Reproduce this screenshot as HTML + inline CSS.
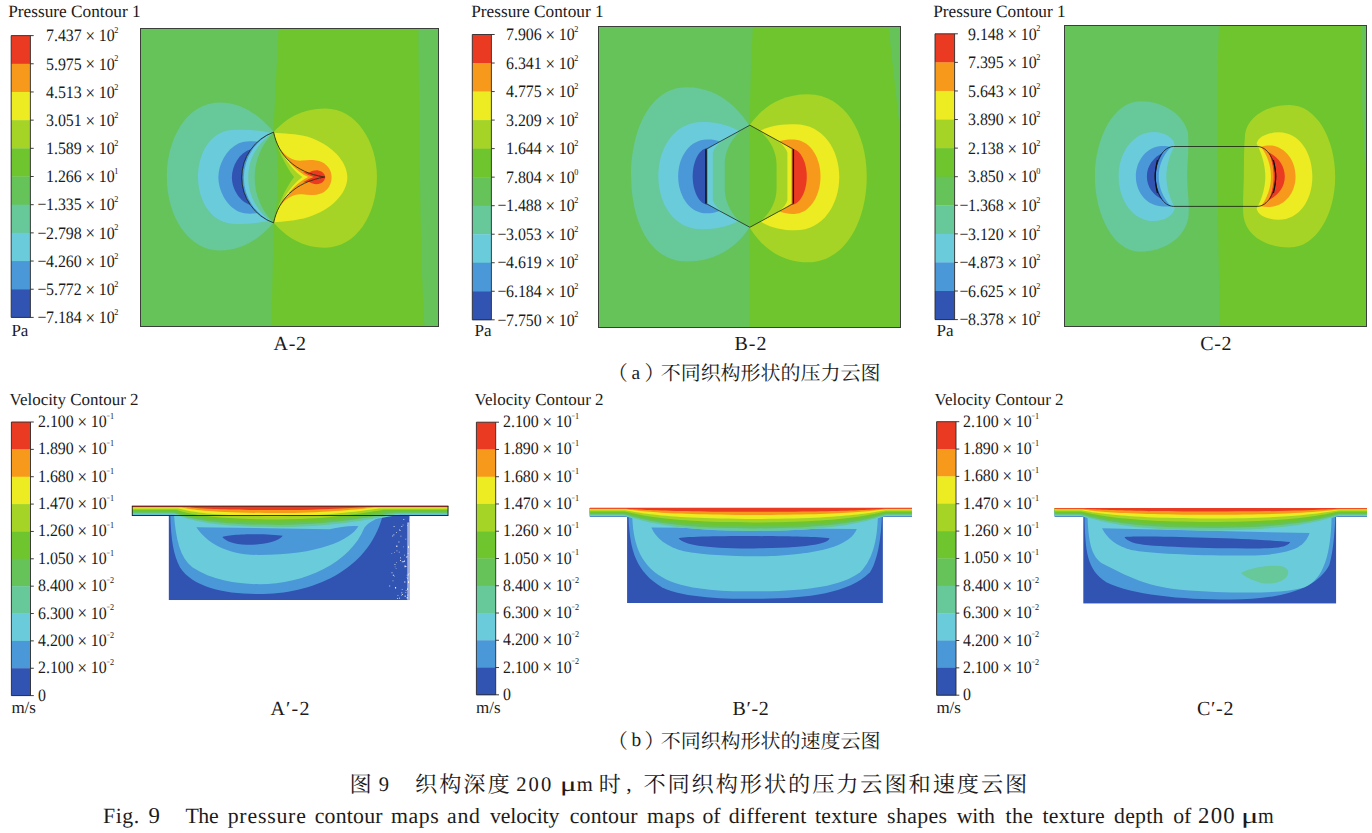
<!DOCTYPE html>
<html lang="zh"><head><meta charset="utf-8"><title>Fig. 9</title><style>
html,body{margin:0;padding:0;background:#fff}
body{width:1372px;height:833px;position:relative;overflow:hidden;font-family:"Liberation Serif",serif;color:#1c1a1b;text-rendering:geometricPrecision;-webkit-font-smoothing:antialiased}
svg{position:absolute;left:0;top:0}
svg text.cj{font-family:"Liberation Serif","Noto Serif CJK SC",serif;fill:#1c1a1b}
.t{position:absolute;white-space:nowrap;line-height:1;margin:0;padding:0}
.t sup{font-size:52%;line-height:0;vertical-align:baseline;position:relative;top:-0.90em;margin-left:-0.04em;letter-spacing:0}
.t .m{font-style:normal;display:inline-block;line-height:1;vertical-align:baseline;transform:scaleX(.75);transform-origin:left center;width:.45em}
.t .neg{font-weight:normal;position:absolute;right:100%;margin-right:-0.03em}
.lab{word-spacing:-0.015em;transform:scaleX(.914);transform-origin:left top}
.t .x{font-style:normal;position:relative;top:.045em;font-size:106%;line-height:0}
.hid{color:transparent}
</style></head><body>
<svg width="1372" height="833" viewBox="0 0 1372 833">
<rect x="11.2" y="35.60" width="19.20" height="28.48" fill="#ea3b22"/>
<rect x="11.2" y="63.78" width="19.20" height="28.48" fill="#f79a1c"/>
<rect x="11.2" y="91.96" width="19.20" height="28.48" fill="#edeb22"/>
<rect x="11.2" y="120.14" width="19.20" height="28.48" fill="#a5d426"/>
<rect x="11.2" y="148.32" width="19.20" height="28.48" fill="#6ec52e"/>
<rect x="11.2" y="176.50" width="19.20" height="28.48" fill="#65c359"/>
<rect x="11.2" y="204.68" width="19.20" height="28.48" fill="#67c89a"/>
<rect x="11.2" y="232.86" width="19.20" height="28.48" fill="#6accda"/>
<rect x="11.2" y="261.04" width="19.20" height="28.48" fill="#4b98d9"/>
<rect x="11.2" y="289.22" width="19.20" height="28.48" fill="#3153b1"/>
<path d="M11.2,35.6 H33.699999999999996 M11.2,317.4 H33.699999999999996 M11.2,35.6 V317.4 M30.4,35.6 V317.4" stroke="#2a2a2a" stroke-width="0.9" fill="none"/>
<path d="M30.4,63.78 h3.3" stroke="#2a2a2a" stroke-width="0.9"/>
<path d="M30.4,91.96 h3.3" stroke="#2a2a2a" stroke-width="0.9"/>
<path d="M30.4,120.14 h3.3" stroke="#2a2a2a" stroke-width="0.9"/>
<path d="M30.4,148.32 h3.3" stroke="#2a2a2a" stroke-width="0.9"/>
<path d="M30.4,176.50 h3.3" stroke="#2a2a2a" stroke-width="0.9"/>
<path d="M30.4,204.68 h3.3" stroke="#2a2a2a" stroke-width="0.9"/>
<path d="M30.4,232.86 h3.3" stroke="#2a2a2a" stroke-width="0.9"/>
<path d="M30.4,261.04 h3.3" stroke="#2a2a2a" stroke-width="0.9"/>
<path d="M30.4,289.22 h3.3" stroke="#2a2a2a" stroke-width="0.9"/>
<rect x="472.3" y="34.50" width="19.10" height="28.83" fill="#ea3b22"/>
<rect x="472.3" y="63.03" width="19.10" height="28.83" fill="#f79a1c"/>
<rect x="472.3" y="91.56" width="19.10" height="28.83" fill="#edeb22"/>
<rect x="472.3" y="120.09" width="19.10" height="28.83" fill="#a5d426"/>
<rect x="472.3" y="148.62" width="19.10" height="28.83" fill="#6ec52e"/>
<rect x="472.3" y="177.15" width="19.10" height="28.83" fill="#65c359"/>
<rect x="472.3" y="205.68" width="19.10" height="28.83" fill="#67c89a"/>
<rect x="472.3" y="234.21" width="19.10" height="28.83" fill="#6accda"/>
<rect x="472.3" y="262.74" width="19.10" height="28.83" fill="#4b98d9"/>
<rect x="472.3" y="291.27" width="19.10" height="28.83" fill="#3153b1"/>
<path d="M472.3,34.5 H494.7 M472.3,319.8 H494.7 M472.3,34.5 V319.8 M491.4,34.5 V319.8" stroke="#2a2a2a" stroke-width="0.9" fill="none"/>
<path d="M491.4,63.03 h3.3" stroke="#2a2a2a" stroke-width="0.9"/>
<path d="M491.4,91.56 h3.3" stroke="#2a2a2a" stroke-width="0.9"/>
<path d="M491.4,120.09 h3.3" stroke="#2a2a2a" stroke-width="0.9"/>
<path d="M491.4,148.62 h3.3" stroke="#2a2a2a" stroke-width="0.9"/>
<path d="M491.4,177.15 h3.3" stroke="#2a2a2a" stroke-width="0.9"/>
<path d="M491.4,205.68 h3.3" stroke="#2a2a2a" stroke-width="0.9"/>
<path d="M491.4,234.21 h3.3" stroke="#2a2a2a" stroke-width="0.9"/>
<path d="M491.4,262.74 h3.3" stroke="#2a2a2a" stroke-width="0.9"/>
<path d="M491.4,291.27 h3.3" stroke="#2a2a2a" stroke-width="0.9"/>
<rect x="935.0" y="33.80" width="19.60" height="28.88" fill="#ea3b22"/>
<rect x="935.0" y="62.38" width="19.60" height="28.88" fill="#f79a1c"/>
<rect x="935.0" y="90.96" width="19.60" height="28.88" fill="#edeb22"/>
<rect x="935.0" y="119.54" width="19.60" height="28.88" fill="#a5d426"/>
<rect x="935.0" y="148.12" width="19.60" height="28.88" fill="#6ec52e"/>
<rect x="935.0" y="176.70" width="19.60" height="28.88" fill="#65c359"/>
<rect x="935.0" y="205.28" width="19.60" height="28.88" fill="#67c89a"/>
<rect x="935.0" y="233.86" width="19.60" height="28.88" fill="#6accda"/>
<rect x="935.0" y="262.44" width="19.60" height="28.88" fill="#4b98d9"/>
<rect x="935.0" y="291.02" width="19.60" height="28.88" fill="#3153b1"/>
<path d="M935.0,33.8 H957.9 M935.0,319.6 H957.9 M935.0,33.8 V319.6 M954.6,33.8 V319.6" stroke="#2a2a2a" stroke-width="0.9" fill="none"/>
<path d="M954.6,62.38 h3.3" stroke="#2a2a2a" stroke-width="0.9"/>
<path d="M954.6,90.96 h3.3" stroke="#2a2a2a" stroke-width="0.9"/>
<path d="M954.6,119.54 h3.3" stroke="#2a2a2a" stroke-width="0.9"/>
<path d="M954.6,148.12 h3.3" stroke="#2a2a2a" stroke-width="0.9"/>
<path d="M954.6,176.70 h3.3" stroke="#2a2a2a" stroke-width="0.9"/>
<path d="M954.6,205.28 h3.3" stroke="#2a2a2a" stroke-width="0.9"/>
<path d="M954.6,233.86 h3.3" stroke="#2a2a2a" stroke-width="0.9"/>
<path d="M954.6,262.44 h3.3" stroke="#2a2a2a" stroke-width="0.9"/>
<path d="M954.6,291.02 h3.3" stroke="#2a2a2a" stroke-width="0.9"/>
<rect x="11.4" y="422.00" width="19.10" height="27.66" fill="#ea3b22"/>
<rect x="11.4" y="449.36" width="19.10" height="27.66" fill="#f79a1c"/>
<rect x="11.4" y="476.72" width="19.10" height="27.66" fill="#edeb22"/>
<rect x="11.4" y="504.08" width="19.10" height="27.66" fill="#a5d426"/>
<rect x="11.4" y="531.44" width="19.10" height="27.66" fill="#6ec52e"/>
<rect x="11.4" y="558.80" width="19.10" height="27.66" fill="#65c359"/>
<rect x="11.4" y="586.16" width="19.10" height="27.66" fill="#67c89a"/>
<rect x="11.4" y="613.52" width="19.10" height="27.66" fill="#6accda"/>
<rect x="11.4" y="640.88" width="19.10" height="27.66" fill="#4b98d9"/>
<rect x="11.4" y="668.24" width="19.10" height="27.66" fill="#3153b1"/>
<path d="M11.4,422.0 H33.8 M11.4,695.6 H33.8 M11.4,422.0 V695.6 M30.5,422.0 V695.6" stroke="#2a2a2a" stroke-width="0.9" fill="none"/>
<path d="M30.5,449.36 h3.3" stroke="#2a2a2a" stroke-width="0.9"/>
<path d="M30.5,476.72 h3.3" stroke="#2a2a2a" stroke-width="0.9"/>
<path d="M30.5,504.08 h3.3" stroke="#2a2a2a" stroke-width="0.9"/>
<path d="M30.5,531.44 h3.3" stroke="#2a2a2a" stroke-width="0.9"/>
<path d="M30.5,558.80 h3.3" stroke="#2a2a2a" stroke-width="0.9"/>
<path d="M30.5,586.16 h3.3" stroke="#2a2a2a" stroke-width="0.9"/>
<path d="M30.5,613.52 h3.3" stroke="#2a2a2a" stroke-width="0.9"/>
<path d="M30.5,640.88 h3.3" stroke="#2a2a2a" stroke-width="0.9"/>
<path d="M30.5,668.24 h3.3" stroke="#2a2a2a" stroke-width="0.9"/>
<rect x="476.4" y="422.20" width="19.30" height="27.56" fill="#ea3b22"/>
<rect x="476.4" y="449.46" width="19.30" height="27.56" fill="#f79a1c"/>
<rect x="476.4" y="476.72" width="19.30" height="27.56" fill="#edeb22"/>
<rect x="476.4" y="503.98" width="19.30" height="27.56" fill="#a5d426"/>
<rect x="476.4" y="531.24" width="19.30" height="27.56" fill="#6ec52e"/>
<rect x="476.4" y="558.50" width="19.30" height="27.56" fill="#65c359"/>
<rect x="476.4" y="585.76" width="19.30" height="27.56" fill="#67c89a"/>
<rect x="476.4" y="613.02" width="19.30" height="27.56" fill="#6accda"/>
<rect x="476.4" y="640.28" width="19.30" height="27.56" fill="#4b98d9"/>
<rect x="476.4" y="667.54" width="19.30" height="27.56" fill="#3153b1"/>
<path d="M476.4,422.2 H499.0 M476.4,694.8 H499.0 M476.4,422.2 V694.8 M495.7,422.2 V694.8" stroke="#2a2a2a" stroke-width="0.9" fill="none"/>
<path d="M495.7,449.46 h3.3" stroke="#2a2a2a" stroke-width="0.9"/>
<path d="M495.7,476.72 h3.3" stroke="#2a2a2a" stroke-width="0.9"/>
<path d="M495.7,503.98 h3.3" stroke="#2a2a2a" stroke-width="0.9"/>
<path d="M495.7,531.24 h3.3" stroke="#2a2a2a" stroke-width="0.9"/>
<path d="M495.7,558.50 h3.3" stroke="#2a2a2a" stroke-width="0.9"/>
<path d="M495.7,585.76 h3.3" stroke="#2a2a2a" stroke-width="0.9"/>
<path d="M495.7,613.02 h3.3" stroke="#2a2a2a" stroke-width="0.9"/>
<path d="M495.7,640.28 h3.3" stroke="#2a2a2a" stroke-width="0.9"/>
<path d="M495.7,667.54 h3.3" stroke="#2a2a2a" stroke-width="0.9"/>
<rect x="936.6" y="421.70" width="19.40" height="27.65" fill="#ea3b22"/>
<rect x="936.6" y="449.05" width="19.40" height="27.65" fill="#f79a1c"/>
<rect x="936.6" y="476.40" width="19.40" height="27.65" fill="#edeb22"/>
<rect x="936.6" y="503.75" width="19.40" height="27.65" fill="#a5d426"/>
<rect x="936.6" y="531.10" width="19.40" height="27.65" fill="#6ec52e"/>
<rect x="936.6" y="558.45" width="19.40" height="27.65" fill="#65c359"/>
<rect x="936.6" y="585.80" width="19.40" height="27.65" fill="#67c89a"/>
<rect x="936.6" y="613.15" width="19.40" height="27.65" fill="#6accda"/>
<rect x="936.6" y="640.50" width="19.40" height="27.65" fill="#4b98d9"/>
<rect x="936.6" y="667.85" width="19.40" height="27.65" fill="#3153b1"/>
<path d="M936.6,421.7 H959.3 M936.6,695.2 H959.3 M936.6,421.7 V695.2 M956.0,421.7 V695.2" stroke="#2a2a2a" stroke-width="0.9" fill="none"/>
<path d="M956.0,449.05 h3.3" stroke="#2a2a2a" stroke-width="0.9"/>
<path d="M956.0,476.40 h3.3" stroke="#2a2a2a" stroke-width="0.9"/>
<path d="M956.0,503.75 h3.3" stroke="#2a2a2a" stroke-width="0.9"/>
<path d="M956.0,531.10 h3.3" stroke="#2a2a2a" stroke-width="0.9"/>
<path d="M956.0,558.45 h3.3" stroke="#2a2a2a" stroke-width="0.9"/>
<path d="M956.0,585.80 h3.3" stroke="#2a2a2a" stroke-width="0.9"/>
<path d="M956.0,613.15 h3.3" stroke="#2a2a2a" stroke-width="0.9"/>
<path d="M956.0,640.50 h3.3" stroke="#2a2a2a" stroke-width="0.9"/>
<path d="M956.0,667.85 h3.3" stroke="#2a2a2a" stroke-width="0.9"/>
<defs>
<clipPath id="cpA"><rect x="140.6" y="28.6" width="298.1" height="297.6"/></clipPath>
<clipPath id="cpB"><rect x="598.5" y="26.1" width="302.3" height="301.0"/></clipPath>
<clipPath id="cpC"><rect x="1064.7" y="25.4" width="301.7" height="301.1"/></clipPath>
</defs>
<g clip-path="url(#cpA)"><rect x="140" y="28" width="300" height="299" fill="#65c359"/><path d="M278.6,28 C276.5,70 274.5,110 273.7,132 L273.7,222.5 C273,260 272,300 271.3,327 L424.4,327 C423,300 421.8,270 420.9,230 C420,180 419,100 418.3,28 Z" fill="#6ec52e"/><g transform="translate(150,70) scale(0.240154)" ><path d="M515,258 C482,222 410,135 290,135 C150,135 70,290 70,445 C70,610 160,752 290,752 C410,752 482,672 515,635 Z" fill="#67c89a"/><path d="M515,258 C548,222 612,160 730,160 C860,160 945,300 945,445 C945,600 860,740 730,740 C612,740 548,672 515,635 Z" fill="#a5d426"/><path d="M505,262 C450,250 400,247 340,250 C250,256 200,350 200,445 C200,540 250,632 340,640 C400,645 450,636 505,628 Z" fill="#6accda"/></g><g transform="translate(225,120) scale(0.138083)" ><path d="M352,92 C420,98 520,98 600,122 C770,176 886,300 886,415 C886,530 770,654 600,704 C520,728 420,736 352,740 Z" fill="#edeb22"/><path d="M245,160 C190,148 135,152 100,168 C8,212 -48,320 -48,415 C-48,510 8,622 100,664 C140,680 190,682 245,672 Z" fill="#4b98d9"/><path d="M185,212 C105,238 50,330 50,415 C50,500 105,592 185,616 Z" fill="#3153b1"/><path d="M405,215 C445,268 500,300 560,294 C610,287 660,288 700,304 C750,328 772,370 772,415 C772,460 750,510 700,530 C660,546 610,546 560,538 C500,533 445,562 405,618 Z" fill="#f79a1c"/><path d="M598,388 C620,370 650,361 677,365 C707,371 726,395 726,413 C726,432 707,458 677,464 C650,468 620,458 598,442 Z" fill="#ea3b22"/><clipPath id="shA"><path d="M352,88 A349.6,349.6 0 0 0 352,745 C385,582 500,452 722,413 C500,380 385,250 352,88 Z"/></clipPath><g clip-path="url(#shA)"><rect x="100" y="60" width="640" height="700" fill="#65c359"/><path d="M352,88 A349.6,349.6 0 0 0 352,745 A462.3,462.3 0 0 1 352,88 Z" fill="#67c89a"/><path d="M352,88 A349.6,349.6 0 0 0 352,745 A385,385 0 0 1 352,88 Z" fill="#6accda"/><path d="M352,88 A349.6,349.6 0 0 0 352,745 A358,358 0 0 1 352,88 Z" fill="#4b98d9"/><path d="M352,88 A1651,1651 0 0 1 352,745 L740,745 L740,88 Z" fill="#6ec52e"/><path d="M352,88 C375,200 430,320 500,413 C430,508 375,630 352,745 L740,745 L740,88 Z" fill="#a5d426"/><path d="M352,88 C380,200 460,340 560,413 C460,488 380,630 352,745 L740,745 L740,88 Z" fill="#edeb22"/><path d="M460,300 Q540,388 603,413 Q540,440 460,528 L740,528 L740,300 Z" fill="#f79a1c"/><path d="M565,378 Q610,404 642,413 Q610,424 565,450 L740,450 L740,378 Z" fill="#ea3b22"/></g><path d="M352,88 A349.6,349.6 0 0 0 352,745 C385,582 500,452 722,413 C500,380 385,250 352,88 Z" fill="none" stroke="#111" stroke-width="5.5" stroke-linejoin="miter"/></g></g>
<rect x="140.5" y="28.5" width="298" height="298" fill="none" stroke="#3a3f3a" stroke-width="1"/>
<g clip-path="url(#cpB)"><rect x="598" y="25" width="304" height="303" fill="#65c359"/><path d="M753,25 C751,60 750,100 749.8,125.2 L749.8,227.3 C749.6,260 749.6,300 749.6,328 L902,328 L902,150 C898,110 892,60 888.3,25 Z" fill="#6ec52e"/><g transform="translate(610,70) scale(0.264131)" ><path d="M528,210 C500,170 430,65 290,65 C150,65 80,230 80,400 C80,570 150,725 290,725 C430,725 500,640 528,595 Z" fill="#67c89a"/><path d="M528,210 C556,170 620,92 750,92 C890,92 972,240 972,405 C972,570 890,728 750,728 C620,728 556,640 528,595 Z" fill="#a5d426"/><path d="M490,232 C440,205 400,197 350,197 C240,197 183,300 183,400 C183,505 240,603 350,603 C400,603 440,595 490,570 Z" fill="#6accda"/><path d="M566,232 C610,208 650,205 700,205 C810,205 868,305 868,405 C868,505 810,607 700,607 C650,607 610,598 566,572 Z" fill="#edeb22"/><path d="M420,272 C395,262 375,262 355,264 C295,272 258,335 258,402 C258,470 295,535 355,542 C375,544 395,542 420,532 Z" fill="#4b98d9"/><path d="M640,270 C665,262 685,262 705,264 C762,272 797,335 797,403 C797,470 762,537 705,544 C685,546 665,544 640,536 Z" fill="#f79a1c"/><path d="M366,296 C335,300 313,350 313,402 C313,455 335,505 366,509 Z" fill="#3153b1"/><path d="M690,298 C722,302 745,350 745,403 C745,456 722,506 690,510 Z" fill="#ea3b22"/></g><g transform="translate(685,115) scale(0.150105)" ><clipPath id="shB"><path d="M432,68 L722,228 L722,590 L432,748 L140,590 L140,228 Z"/></clipPath><g clip-path="url(#shB)"><rect x="100" y="40" width="660" height="740" fill="#65c359"/><rect x="432" y="40" width="330" height="740" fill="#6ec52e"/><path d="M425,68 C330,120 265,220 265,330 L265,490 C265,600 330,700 425,748 L100,748 L100,68 Z" fill="#67c89a"/><path d="M395,84 C300,135 205,190 185,250 L185,570 C205,630 300,685 395,735 L100,748 L100,68 Z" fill="#6accda"/><path d="M235,172 L152,228 L152,590 L235,648 L100,748 L100,68 Z" fill="#4b98d9"/><path d="M440,68 C540,120 610,220 610,330 L610,490 C610,600 540,700 440,748 L770,748 L770,68 Z" fill="#a5d426"/><path d="M470,84 C570,135 665,190 682,250 L682,570 C665,630 570,685 470,735 L770,748 L770,68 Z" fill="#edeb22"/><path d="M640,178 L708,228 L708,590 L640,642 L770,748 L770,68 Z" fill="#f79a1c"/><path d="M716,225 L716,594 L770,594 L770,225 Z" fill="#ea3b22"/></g><path d="M432,68 L722,228 L722,590 L432,748 L140,590 L140,228 Z" fill="none" stroke="#111" stroke-width="4.5" stroke-linejoin="miter"/><path d="M140,228 V590 M722,228 V590" fill="none" stroke="#111" stroke-width="9"/></g></g>
<rect x="598.5" y="26.5" width="302" height="301" fill="none" stroke="#3a3f3a" stroke-width="1"/>
<g clip-path="url(#cpC)"><rect x="1064" y="25" width="303" height="302" fill="#65c359"/><path d="M1219,25 C1217.5,60 1217.4,110 1217.6,150 C1217.8,200 1218.5,270 1220,327 L1367,327 L1367,190 C1363,150 1361,80 1361,25 Z" fill="#6ec52e"/><g transform="translate(1120,120) scale(0.134409)" ><path d="M150,-140 C330,-140 470,-40 505,90 C516,200 500,330 500,420 C500,520 520,640 508,730 C480,880 330,980 150,980 C-50,980 -187,700 -187,420 C-187,140 -50,-140 150,-140 Z" fill="#67c89a"/><path d="M250,90 C330,92 400,130 408,190 C370,260 345,340 345,420 C345,500 370,580 408,652 C400,710 330,750 250,752 C100,752 -10,600 -10,420 C-10,240 100,90 250,90 Z" fill="#6accda"/><path d="M290,195 C330,192 360,195 378,202 C320,260 288,340 288,420 C288,500 320,580 378,640 C360,645 330,645 290,640 C190,625 118,530 118,420 C118,310 190,210 290,195 Z" fill="#4b98d9"/><path d="M318,245 C285,300 266,360 266,420 C266,480 285,540 318,592 C250,560 200,500 200,420 C200,340 250,275 318,245 Z" fill="#3153b1"/></g><g transform="translate(1225,120) scale(0.134409)" ><path d="M480,-111 C300,-111 170,-20 150,100 C140,200 142,330 140,420 C138,520 130,640 138,720 C160,860 300,948 480,948 C680,948 820,700 820,420 C820,140 680,-111 480,-111 Z" fill="#a5d426"/><path d="M400,92 C320,94 250,120 235,175 C275,250 300,340 300,420 C300,500 275,590 235,660 C250,715 320,740 400,742 C550,742 650,600 650,420 C650,240 550,92 400,92 Z" fill="#edeb22"/><path d="M350,190 C320,188 290,192 268,200 C315,260 342,340 342,420 C342,500 315,580 268,642 C290,648 320,650 350,646 C450,630 525,540 525,420 C525,300 450,205 350,190 Z" fill="#f79a1c"/><path d="M325,240 C350,300 362,360 362,420 C362,480 350,540 325,596 C395,560 445,500 445,420 C445,340 395,275 325,240 Z" fill="#ea3b22"/></g><path d="M1173.76,146.5 L1257.26,146.5 C1267.46,146.5 1275.7,160.00 1275.7,176.45 C1275.7,192.90 1267.46,206.4 1257.26,206.4 L1173.76,206.4 C1163.56,206.4 1155.2,192.90 1155.2,176.45 C1155.2,160.00 1163.56,146.5 1173.76,146.5 Z" fill="none" stroke="#111" stroke-width="0.75"/><path d="M1157.5,160 C1155.6,168 1155.2,172 1155.2,176.4 C1155.2,181 1155.6,185 1157.5,193 M1273.4,160 C1275.3,168 1275.7,172 1275.7,176.4 C1275.7,181 1275.3,185 1273.4,193" fill="none" stroke="#111" stroke-width="1.2"/></g>
<rect x="1064.5" y="25.5" width="302" height="301" fill="none" stroke="#3a3f3a" stroke-width="1"/>
<g transform="translate(120,490) scale(0.247831)" ><clipPath id="vA"><path d="M48,65 H1325 V103 H1168 V445 H197 V103 H48 Z"/></clipPath><g clip-path="url(#vA)"><rect x="48" y="65" width="1277" height="380" fill="#3153b1"/><path d="M203,103 C206,200 215,262 242,312 C292,392 420,420 560,420 C770,420 1000,330 1060,103 Z" fill="#4b98d9"/><path d="M218,103 C226,200 242,272 292,312 C372,366 480,380 562,380 C745,380 930,292 986,152 C1002,130 1040,113 1066,103 Z" fill="#6accda"/><path d="M308,150 L845,158 C885,150 930,142 962,146 C930,202 800,262 560,262 C430,262 350,212 308,150 Z" fill="#4b98d9"/><path d="M413,190 C430,177 600,174 657,185 C640,211 560,223 510,221 C460,221 425,206 413,190 Z" fill="#3153b1"/><path d="M48,63 L1325,63 L1325,103 L1165,103 C1138.8,103 928.8,103 640,103 C283.0,103 236.2,103 215,103 L48,103 Z" fill="#4b98d9"/><path d="M48,63 L1325,63 L1325,99.5 L1130,99.5 C1105.5,99.5 909.5,150 640,150 C283.0,150 236.2,99.5 215,99.5 L48,99.5 Z" fill="#6accda"/><path d="M48,63 L1325,63 L1325,96 L1130,96 C1105.5,96 909.5,150 640,150 C283.0,150 236.2,96 215,96 L48,96 Z" fill="#67c89a"/><path d="M48,63 L1325,63 L1325,92 L1110,92 C1086.5,92 898.5,141 640,141 C283.0,141 236.2,92 215,92 L48,92 Z" fill="#65c359"/><path d="M48,63 L1325,63 L1325,87 L1090,87 C1067.5,87 887.5,131 640,131 C283.0,131 236.2,87 215,87 L48,87 Z" fill="#6ec52e"/><path d="M48,63 L1325,63 L1325,80 L1070,80 C1048.5,80 876.5,119 640,119 C288.9,119 242.9,80 222,80 L48,80 Z" fill="#a5d426"/><path d="M48,63 L1325,63 L1325,75 L1050,75 C1029.5,75 865.5,106 640,106 C297.3,106 252.4,75 232,75 L48,75 Z" fill="#edeb22"/><path d="M48,63 L1325,63 L1325,70.5 L1030,70.5 C1010.5,70.5 854.5,93 640,93 C308.2,93 264.8,70.5 245,70.5 L48,70.5 Z" fill="#f79a1c"/><path d="M48,63 L1325,63 L1325,68.5 L1010,68.5 C991.5,68.5 843.5,81 640,81 C320.8,81 279.0,68.5 260,68.5 L48,68.5 Z" fill="#ea3b22"/><path d="M1130,161h2v3h-2zM1158,142h2v3h-2zM1096,254h2v3h-2zM1106,251h2v3h-2zM1149,303h2v6h-2zM1099,184h3v4h-3zM1137,289h3v3h-3zM1108,299h3v4h-3zM1107,346h2v3h-2zM1141,286h3v6h-3zM1147,261h3v3h-3zM1157,342h3v3h-3zM1146,284h3v6h-3zM1127,434h2v6h-2zM1115,224h4v6h-4zM1096,332h3v4h-3zM1152,307h4v3h-4zM1159,423h4v3h-4zM1101,342h4v4h-4zM1153,404h3v3h-3zM1164,228h2v6h-2zM1100,365h3v3h-3zM1135,414h4v3h-4zM1116,244h3v3h-3zM1158,396h3v6h-3zM1165,336h4v3h-4zM1114,169h3v3h-3zM1087,385h3v4h-3zM1126,159h3v4h-3zM1164,339h2v6h-2zM1162,368h4v6h-4zM1135,145h4v3h-4zM1118,436h4v3h-4zM1109,309h2v3h-2zM1145,288h3v3h-3zM1103,180h4v3h-4zM1149,426h3v6h-3zM1110,391h4v6h-4zM1141,139h2v4h-2zM1154,269h3v3h-3zM1120,425h3v3h-3zM1152,413h3v3h-3zM1152,197h3v3h-3zM1132,185h3v3h-3zM1148,371h3v3h-3zM1158,355h3v3h-3zM1143,228h2v3h-2zM1157,267h3v4h-3zM1138,420h3v4h-3zM1104,145h4v3h-4zM1131,270h2v6h-2zM1162,225h2v3h-2zM1162,369h3v6h-3zM1161,254h3v3h-3zM1157,432h4v6h-4zM1135,423h3v3h-3zM1166,120h4v3h-4zM1148,308h4v4h-4zM1114,292h2v3h-2zM1157,351h2v3h-2zM1137,399h3v3h-3zM1124,208h3v4h-3zM1125,249h3v3h-3zM1162,228h4v6h-4zM1159,401h3v3h-3zM1143,117h4v3h-4zM1148,367h3v3h-3zM1113,315h2v3h-2zM1130,282h4v3h-4zM1161,130h3v4h-3z" fill="#fff"/><rect x="1159" y="133" width="9" height="312" fill="#fff" opacity="0.55"/></g><path d="M48,65 H1325 M48,103 H1325 M49.5,65 V103 M1323.5,65 V103" stroke="#161616" stroke-width="3.4" fill="none"/></g>
<g transform="translate(580,490) scale(0.247831)" ><clipPath id="vB"><path d="M38,72 H1340 V108 H1222 V457 H190 V108 H38 Z"/></clipPath><g clip-path="url(#vB)"><rect x="38" y="72" width="1302" height="385" fill="#3153b1"/><path d="M196,108 C200,250 230,332 330,392 C420,437 600,439 700,439 C900,439 1080,422 1170,332 C1210,270 1216,150 1218,108 Z" fill="#4b98d9"/><path d="M211,108 C215,230 250,312 350,362 C450,407 600,409 700,409 C900,409 1050,392 1130,332 C1190,272 1199,180 1202,108 Z" fill="#6accda"/><path d="M288,151 L1117,157 C1092,216 1000,252 800,265 C700,270 520,267 420,247 C350,230 305,192 288,151 Z" fill="#4b98d9"/><path d="M398,195 C420,184 900,182 1007,195 C1000,216 940,233 700,236 C500,237 420,221 398,195 Z" fill="#3153b1"/><path d="M38,70 L1340,70 L1340,108 L1238,108 C1211.3,108 1115.4,108 705,108 C296.9,108 201.5,108 175,108 L38,108 Z" fill="#4b98d9"/><path d="M38,70 L1340,70 L1340,105 L1238,105 C1211.3,105 1115.4,165 705,165 C296.9,165 201.5,105 175,105 L38,105 Z" fill="#6accda"/><path d="M38,70 L1340,70 L1340,101.5 L1238,101.5 C1211.3,101.5 1115.4,165 705,165 C296.9,165 201.5,101.5 175,101.5 L38,101.5 Z" fill="#67c89a"/><path d="M38,70 L1340,70 L1340,98 L1238,98 C1211.3,98 1115.4,155 705,155 C296.9,155 201.5,98 175,98 L38,98 Z" fill="#65c359"/><path d="M38,70 L1340,70 L1340,93 L1238,93 C1211.3,93 1115.4,144 705,144 C296.9,144 201.5,93 175,93 L38,93 Z" fill="#6ec52e"/><path d="M38,70 L1340,70 L1340,87 L1238,87 C1211.3,87 1115.4,131 705,131 C296.9,131 201.5,87 175,87 L38,87 Z" fill="#a5d426"/><path d="M38,70 L1340,70 L1340,82 L1238,82 C1211.3,82 1115.4,117 705,117 C296.9,117 201.5,82 175,82 L38,82 Z" fill="#edeb22"/><path d="M38,70 L1340,70 L1340,78 L1238,78 C1211.3,78 1115.4,101 705,101 C296.9,101 201.5,78 175,78 L38,78 Z" fill="#f79a1c"/><path d="M38,70 L1340,70 L1340,75.5 L1238,75.5 C1211.3,75.5 1115.4,88 705,88 C296.9,88 201.5,75.5 175,75.5 L38,75.5 Z" fill="#ea3b22"/></g></g>
<g transform="translate(1032,490) scale(0.247831)" ><clipPath id="vC"><path d="M90,73 H1352 V108 H1227 V459 H207 V108 H90 Z"/></clipPath><g clip-path="url(#vC)"><rect x="90" y="73" width="1262" height="386" fill="#3153b1"/><path d="M212,108 C215,250 222,322 300,372 C400,422 600,442 800,442 C1000,442 1150,402 1200,302 C1218,240 1222,150 1224,108 Z" fill="#4b98d9"/><path d="M224,108 C228,200 236,272 290,300 C350,328 450,392 600,402 C800,417 1000,422 1100,392 C1180,360 1206,250 1209,108 Z" fill="#6accda"/><path d="M283,154 L1120,174 C1100,232 1050,257 900,264 C700,267 480,257 400,242 C340,226 300,192 283,154 Z" fill="#4b98d9"/><path d="M373,190 C400,182 900,194 1042,210 C1030,229 1000,236 900,236 C700,236 480,229 420,216 C390,208 378,199 373,190 Z" fill="#3153b1"/><path d="M843,335 C880,314 950,302 1000,307 C1032,311 1042,330 1027,351 C1005,376 960,381 930,376 C890,366 860,351 843,335 Z" fill="#67c89a"/><path d="M90,71 L1352,71 L1352,108 L1242,108 C1215.7,108 1120.8,108 715,108 C312.3,108 218.2,108 192,108 L90,108 Z" fill="#4b98d9"/><path d="M90,71 L1352,71 L1352,105 L1242,105 C1215.7,105 1120.8,163 715,163 C312.3,163 218.2,105 192,105 L90,105 Z" fill="#6accda"/><path d="M90,71 L1352,71 L1352,101.5 L1242,101.5 C1215.7,101.5 1120.8,163 715,163 C312.3,163 218.2,101.5 192,101.5 L90,101.5 Z" fill="#67c89a"/><path d="M90,71 L1352,71 L1352,98 L1242,98 C1215.7,98 1120.8,153 715,153 C312.3,153 218.2,98 192,98 L90,98 Z" fill="#65c359"/><path d="M90,71 L1352,71 L1352,93 L1242,93 C1215.7,93 1120.8,142 715,142 C312.3,142 218.2,93 192,93 L90,93 Z" fill="#6ec52e"/><path d="M90,71 L1352,71 L1352,87 L1242,87 C1215.7,87 1120.8,129 715,129 C312.3,129 218.2,87 192,87 L90,87 Z" fill="#a5d426"/><path d="M90,71 L1352,71 L1352,82 L1242,82 C1215.7,82 1120.8,115 715,115 C312.3,115 218.2,82 192,82 L90,82 Z" fill="#edeb22"/><path d="M90,71 L1352,71 L1352,78.5 L1242,78.5 C1215.7,78.5 1120.8,100 715,100 C312.3,100 218.2,78.5 192,78.5 L90,78.5 Z" fill="#f79a1c"/><path d="M90,71 L1352,71 L1352,76 L1242,76 C1215.7,76 1120.8,87 715,87 C312.3,87 218.2,76 192,76 L90,76 Z" fill="#ea3b22"/></g></g>
<text class="cj" x="607.70" y="380.40" font-size="20">（</text>
<text class="cj" x="644.50" y="380.40" font-size="20">）</text>
<text class="cj" y="380.40" font-size="20" x="660.70 680.67 700.64 720.61 740.58 760.55 780.52 800.49 820.46 840.43 860.40">不同织构形状的压力云图</text>
<text class="cj" x="607.70" y="747.80" font-size="20">（</text>
<text class="cj" x="644.50" y="747.80" font-size="20">）</text>
<text class="cj" y="747.80" font-size="20" x="660.70 680.67 700.64 720.61 740.58 760.55 780.52 800.49 820.46 840.43 860.40">不同织构形状的速度云图</text>
<text class="cj" x="349.60" y="792.20" font-size="22.2">图</text>
<text class="cj" y="792.20" font-size="22.2" x="415.10 439.23 463.36 487.49">织构深度</text>
<text class="cj" x="598.80" y="792.20" font-size="22.2">时</text>
<text class="cj" y="792.20" font-size="22.2" x="643.40 667.51 691.61 715.72 739.83 763.93 788.04 812.15 836.26 860.36 884.47 908.58 932.68 956.79 980.90 1005.00">不同织构形状的压力云图和速度云图</text>
</svg>
<span class="t ttl" style="left:8.20px;top:2.51px;font-size:17.3px;">Pressure Contour 1</span>
<span class="t lab" style="left:45.70px;top:27.33px;font-size:17.4px;">7.437 <i class="x">×</i> 10<sup>2</sup></span>
<span class="t lab" style="left:45.70px;top:55.51px;font-size:17.4px;">5.975 <i class="x">×</i> 10<sup>2</sup></span>
<span class="t lab" style="left:45.70px;top:83.69px;font-size:17.4px;">4.513 <i class="x">×</i> 10<sup>2</sup></span>
<span class="t lab" style="left:45.70px;top:111.87px;font-size:17.4px;">3.051 <i class="x">×</i> 10<sup>2</sup></span>
<span class="t lab" style="left:45.70px;top:140.05px;font-size:17.4px;">1.589 <i class="x">×</i> 10<sup>2</sup></span>
<span class="t lab" style="left:45.70px;top:168.23px;font-size:17.4px;">1.266 <i class="x">×</i> 10<sup>1</sup></span>
<span class="t lab" style="left:45.70px;top:196.41px;font-size:17.4px;"><b class="neg">−</b>1.335 <i class="x">×</i> 10<sup>2</sup></span>
<span class="t lab" style="left:45.70px;top:224.59px;font-size:17.4px;"><b class="neg">−</b>2.798 <i class="x">×</i> 10<sup>2</sup></span>
<span class="t lab" style="left:45.70px;top:252.77px;font-size:17.4px;"><b class="neg">−</b>4.260 <i class="x">×</i> 10<sup>2</sup></span>
<span class="t lab" style="left:45.70px;top:280.95px;font-size:17.4px;"><b class="neg">−</b>5.772 <i class="x">×</i> 10<sup>2</sup></span>
<span class="t lab" style="left:45.70px;top:309.13px;font-size:17.4px;"><b class="neg">−</b>7.184 <i class="x">×</i> 10<sup>2</sup></span>
<span class="t unit" style="left:11.40px;top:321.66px;font-size:17.0px;">Pa</span>
<span class="t ttl" style="left:471.20px;top:2.51px;font-size:17.3px;">Pressure Contour 1</span>
<span class="t lab" style="left:505.80px;top:26.23px;font-size:17.4px;">7.906 <i class="x">×</i> 10<sup>2</sup></span>
<span class="t lab" style="left:505.80px;top:54.76px;font-size:17.4px;">6.341 <i class="x">×</i> 10<sup>2</sup></span>
<span class="t lab" style="left:505.80px;top:83.29px;font-size:17.4px;">4.775 <i class="x">×</i> 10<sup>2</sup></span>
<span class="t lab" style="left:505.80px;top:111.82px;font-size:17.4px;">3.209 <i class="x">×</i> 10<sup>2</sup></span>
<span class="t lab" style="left:505.80px;top:140.35px;font-size:17.4px;">1.644 <i class="x">×</i> 10<sup>2</sup></span>
<span class="t lab" style="left:505.80px;top:168.88px;font-size:17.4px;">7.804 <i class="x">×</i> 10<sup>0</sup></span>
<span class="t lab" style="left:505.80px;top:197.41px;font-size:17.4px;"><b class="neg">−</b>1.488 <i class="x">×</i> 10<sup>2</sup></span>
<span class="t lab" style="left:505.80px;top:225.94px;font-size:17.4px;"><b class="neg">−</b>3.053 <i class="x">×</i> 10<sup>2</sup></span>
<span class="t lab" style="left:505.80px;top:254.47px;font-size:17.4px;"><b class="neg">−</b>4.619 <i class="x">×</i> 10<sup>2</sup></span>
<span class="t lab" style="left:505.80px;top:283.00px;font-size:17.4px;"><b class="neg">−</b>6.184 <i class="x">×</i> 10<sup>2</sup></span>
<span class="t lab" style="left:505.80px;top:311.53px;font-size:17.4px;"><b class="neg">−</b>7.750 <i class="x">×</i> 10<sup>2</sup></span>
<span class="t unit" style="left:474.50px;top:321.66px;font-size:17.0px;">Pa</span>
<span class="t ttl" style="left:933.20px;top:2.51px;font-size:17.3px;">Pressure Contour 1</span>
<span class="t lab" style="left:968.10px;top:25.53px;font-size:17.4px;">9.148 <i class="x">×</i> 10<sup>2</sup></span>
<span class="t lab" style="left:968.10px;top:54.11px;font-size:17.4px;">7.395 <i class="x">×</i> 10<sup>2</sup></span>
<span class="t lab" style="left:968.10px;top:82.69px;font-size:17.4px;">5.643 <i class="x">×</i> 10<sup>2</sup></span>
<span class="t lab" style="left:968.10px;top:111.27px;font-size:17.4px;">3.890 <i class="x">×</i> 10<sup>2</sup></span>
<span class="t lab" style="left:968.10px;top:139.85px;font-size:17.4px;">2.138 <i class="x">×</i> 10<sup>2</sup></span>
<span class="t lab" style="left:968.10px;top:168.43px;font-size:17.4px;">3.850 <i class="x">×</i> 10<sup>0</sup></span>
<span class="t lab" style="left:968.10px;top:197.01px;font-size:17.4px;"><b class="neg">−</b>1.368 <i class="x">×</i> 10<sup>2</sup></span>
<span class="t lab" style="left:968.10px;top:225.59px;font-size:17.4px;"><b class="neg">−</b>3.120 <i class="x">×</i> 10<sup>2</sup></span>
<span class="t lab" style="left:968.10px;top:254.17px;font-size:17.4px;"><b class="neg">−</b>4.873 <i class="x">×</i> 10<sup>2</sup></span>
<span class="t lab" style="left:968.10px;top:282.75px;font-size:17.4px;"><b class="neg">−</b>6.625 <i class="x">×</i> 10<sup>2</sup></span>
<span class="t lab" style="left:968.10px;top:311.33px;font-size:17.4px;"><b class="neg">−</b>8.378 <i class="x">×</i> 10<sup>2</sup></span>
<span class="t unit" style="left:936.50px;top:321.66px;font-size:17.0px;">Pa</span>
<span class="t ttl" style="left:9.60px;top:391.60px;font-size:16.95px;">Velocity Contour 2</span>
<span class="t lab" style="left:37.60px;top:413.03px;font-size:17.4px;">2.100 <i class="x">×</i> 10<sup><i class="m">−</i>1</sup></span>
<span class="t lab" style="left:37.60px;top:440.39px;font-size:17.4px;">1.890 <i class="x">×</i> 10<sup><i class="m">−</i>1</sup></span>
<span class="t lab" style="left:37.60px;top:467.75px;font-size:17.4px;">1.680 <i class="x">×</i> 10<sup><i class="m">−</i>1</sup></span>
<span class="t lab" style="left:37.60px;top:495.11px;font-size:17.4px;">1.470 <i class="x">×</i> 10<sup><i class="m">−</i>1</sup></span>
<span class="t lab" style="left:37.60px;top:522.47px;font-size:17.4px;">1.260 <i class="x">×</i> 10<sup><i class="m">−</i>1</sup></span>
<span class="t lab" style="left:37.60px;top:549.83px;font-size:17.4px;">1.050 <i class="x">×</i> 10<sup><i class="m">−</i>1</sup></span>
<span class="t lab" style="left:37.60px;top:577.19px;font-size:17.4px;">8.400 <i class="x">×</i> 10<sup><i class="m">−</i>2</sup></span>
<span class="t lab" style="left:37.60px;top:604.55px;font-size:17.4px;">6.300 <i class="x">×</i> 10<sup><i class="m">−</i>2</sup></span>
<span class="t lab" style="left:37.60px;top:631.91px;font-size:17.4px;">4.200 <i class="x">×</i> 10<sup><i class="m">−</i>2</sup></span>
<span class="t lab" style="left:37.60px;top:659.27px;font-size:17.4px;">2.100 <i class="x">×</i> 10<sup><i class="m">−</i>2</sup></span>
<span class="t lab" style="left:37.60px;top:686.63px;font-size:17.4px;">0</span>
<span class="t unit" style="left:11.40px;top:699.16px;font-size:17.0px;">m/s</span>
<span class="t ttl" style="left:474.60px;top:391.60px;font-size:16.95px;">Velocity Contour 2</span>
<span class="t lab" style="left:502.60px;top:413.23px;font-size:17.4px;">2.100 <i class="x">×</i> 10<sup><i class="m">−</i>1</sup></span>
<span class="t lab" style="left:502.60px;top:440.49px;font-size:17.4px;">1.890 <i class="x">×</i> 10<sup><i class="m">−</i>1</sup></span>
<span class="t lab" style="left:502.60px;top:467.75px;font-size:17.4px;">1.680 <i class="x">×</i> 10<sup><i class="m">−</i>1</sup></span>
<span class="t lab" style="left:502.60px;top:495.01px;font-size:17.4px;">1.470 <i class="x">×</i> 10<sup><i class="m">−</i>1</sup></span>
<span class="t lab" style="left:502.60px;top:522.27px;font-size:17.4px;">1.260 <i class="x">×</i> 10<sup><i class="m">−</i>1</sup></span>
<span class="t lab" style="left:502.60px;top:549.53px;font-size:17.4px;">1.050 <i class="x">×</i> 10<sup><i class="m">−</i>1</sup></span>
<span class="t lab" style="left:502.60px;top:576.79px;font-size:17.4px;">8.400 <i class="x">×</i> 10<sup><i class="m">−</i>2</sup></span>
<span class="t lab" style="left:502.60px;top:604.05px;font-size:17.4px;">6.300 <i class="x">×</i> 10<sup><i class="m">−</i>2</sup></span>
<span class="t lab" style="left:502.60px;top:631.31px;font-size:17.4px;">4.200 <i class="x">×</i> 10<sup><i class="m">−</i>2</sup></span>
<span class="t lab" style="left:502.60px;top:658.57px;font-size:17.4px;">2.100 <i class="x">×</i> 10<sup><i class="m">−</i>2</sup></span>
<span class="t lab" style="left:502.60px;top:685.83px;font-size:17.4px;">0</span>
<span class="t unit" style="left:476.10px;top:699.16px;font-size:17.0px;">m/s</span>
<span class="t ttl" style="left:934.60px;top:391.60px;font-size:16.95px;">Velocity Contour 2</span>
<span class="t lab" style="left:963.00px;top:412.73px;font-size:17.4px;">2.100 <i class="x">×</i> 10<sup><i class="m">−</i>1</sup></span>
<span class="t lab" style="left:963.00px;top:440.08px;font-size:17.4px;">1.890 <i class="x">×</i> 10<sup><i class="m">−</i>1</sup></span>
<span class="t lab" style="left:963.00px;top:467.43px;font-size:17.4px;">1.680 <i class="x">×</i> 10<sup><i class="m">−</i>1</sup></span>
<span class="t lab" style="left:963.00px;top:494.78px;font-size:17.4px;">1.470 <i class="x">×</i> 10<sup><i class="m">−</i>1</sup></span>
<span class="t lab" style="left:963.00px;top:522.13px;font-size:17.4px;">1.260 <i class="x">×</i> 10<sup><i class="m">−</i>1</sup></span>
<span class="t lab" style="left:963.00px;top:549.48px;font-size:17.4px;">1.050 <i class="x">×</i> 10<sup><i class="m">−</i>1</sup></span>
<span class="t lab" style="left:963.00px;top:576.83px;font-size:17.4px;">8.400 <i class="x">×</i> 10<sup><i class="m">−</i>2</sup></span>
<span class="t lab" style="left:963.00px;top:604.18px;font-size:17.4px;">6.300 <i class="x">×</i> 10<sup><i class="m">−</i>2</sup></span>
<span class="t lab" style="left:963.00px;top:631.53px;font-size:17.4px;">4.200 <i class="x">×</i> 10<sup><i class="m">−</i>2</sup></span>
<span class="t lab" style="left:963.00px;top:658.88px;font-size:17.4px;">2.100 <i class="x">×</i> 10<sup><i class="m">−</i>2</sup></span>
<span class="t lab" style="left:963.00px;top:686.23px;font-size:17.4px;">0</span>
<span class="t unit" style="left:936.40px;top:699.16px;font-size:17.0px;">m/s</span>
<span class="t" style="left:273.40px;top:333.95px;font-size:20px;letter-spacing:0.8px;">A-2</span>
<span class="t" style="left:734.60px;top:333.85px;font-size:20px;letter-spacing:0.9px;">B-2</span>
<span class="t" style="left:1200.20px;top:333.95px;font-size:20px;letter-spacing:0.7px;">C-2</span>
<span class="t" style="left:270.40px;top:698.95px;font-size:20px;letter-spacing:1.2px;">A′-2</span>
<span class="t" style="left:732.60px;top:698.95px;font-size:20px;letter-spacing:0.6px;">B′-2</span>
<span class="t" style="left:1197.00px;top:698.75px;font-size:20px;letter-spacing:0.7px;">C′-2</span>
<span class="t bod" style="left:631.50px;top:364.05px;font-size:19.4px;">a</span>
<span class="t hid" style="left:619.00px;top:365.32px;font-size:18px;">（a）不同织构形状的压力云图</span>
<span class="t bod" style="left:631.50px;top:731.45px;font-size:19.4px;">b</span>
<span class="t hid" style="left:619.00px;top:732.72px;font-size:18px;">（b）不同织构形状的速度云图</span>
<span class="t hid" style="left:352.00px;top:775.45px;font-size:20px;">图 9　织构深度 200 μm 时，不同织构形状的压力云图和速度云图</span>
<span class="t eng" style="left:378.85px;top:774.55px;font-size:20.6px;">9</span>
<span class="t eng" style="left:516.30px;top:774.55px;font-size:20.6px;letter-spacing:2.0px;">200</span>
<span class="t eng" style="left:626.15px;top:773.79px;font-size:21.5px;">,</span>
<span class="t eng" style="left:102.95px;top:805.54px;font-size:21.8px;letter-spacing:0.584px;">Fig.</span>
<span class="t eng" style="left:148.45px;top:804.70px;font-size:22.8px;">9</span>
<span class="t eng" style="left:185.40px;top:805.54px;font-size:21.8px;letter-spacing:-0.335px;">The</span>
<span class="t eng" style="left:227.70px;top:805.54px;font-size:21.8px;letter-spacing:0.786px;">pressure</span>
<span class="t eng" style="left:314.65px;top:805.54px;font-size:21.8px;letter-spacing:0.228px;">contour</span>
<span class="t eng" style="left:390.90px;top:805.54px;font-size:21.8px;letter-spacing:0.584px;">maps</span>
<span class="t eng" style="left:447.10px;top:805.54px;font-size:21.8px;letter-spacing:0.725px;">and</span>
<span class="t eng" style="left:490.05px;top:805.54px;font-size:21.8px;letter-spacing:-0.124px;">velocity</span>
<span class="t eng" style="left:569.65px;top:805.54px;font-size:21.8px;letter-spacing:0.228px;">contour</span>
<span class="t eng" style="left:647.05px;top:805.54px;font-size:21.8px;letter-spacing:0.584px;">maps</span>
<span class="t eng" style="left:702.55px;top:805.54px;font-size:21.8px;letter-spacing:-0.125px;">of</span>
<span class="t eng" style="left:728.85px;top:805.54px;font-size:21.8px;letter-spacing:0.353px;">different</span>
<span class="t eng" style="left:815.00px;top:805.54px;font-size:21.8px;letter-spacing:0.301px;">texture</span>
<span class="t eng" style="left:887.05px;top:805.54px;font-size:21.8px;letter-spacing:0.385px;">shapes</span>
<span class="t eng" style="left:956.65px;top:805.54px;font-size:21.8px;letter-spacing:-0.125px;">with</span>
<span class="t eng" style="left:1005.40px;top:805.54px;font-size:21.8px;letter-spacing:0.51px;">the</span>
<span class="t eng" style="left:1042.45px;top:805.54px;font-size:21.8px;letter-spacing:0.301px;">texture</span>
<span class="t eng" style="left:1114.10px;top:805.54px;font-size:21.8px;letter-spacing:0.194px;">depth</span>
<span class="t eng" style="left:1173.25px;top:805.54px;font-size:21.8px;letter-spacing:-0.125px;">of</span>
<span class="t eng" style="left:1198.10px;top:804.70px;font-size:22.8px;letter-spacing:1.15px;">200</span>
<span class="t eng" style="left:559.90px;top:774.55px;font-size:20.6px;transform:scaleX(1.5);transform-origin:left top;">μ</span>
<span class="t eng" style="left:576.80px;top:774.55px;font-size:20.6px;transform:scaleX(1.0);transform-origin:left top;">m</span>
<span class="t eng" style="left:1240.80px;top:805.54px;font-size:21.8px;transform:scaleX(1.5);transform-origin:left top;">μ</span>
<span class="t eng" style="left:1258.20px;top:805.54px;font-size:21.8px;transform:scaleX(0.925);transform-origin:left top;">m</span>
</body></html>
